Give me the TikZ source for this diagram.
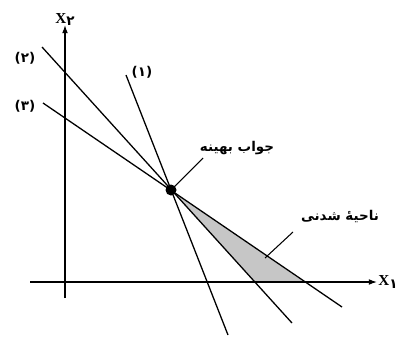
\documentclass[tikz,border=0pt]{standalone}
\usepackage{fontspec}
\newfontfamily\arabicfont[Script=Arabic]{DejaVu Sans}
\newfontfamily\latinfont{Liberation Serif}
\TeXXeTstate=1
\usetikzlibrary{arrows.meta,backgrounds}

\newcommand{\axlabel}[1]{{\latinfont\bfseries\fontsize{13}{14}\selectfont X}\raisebox{-2pt}{\arabicfont\bfseries #1}}

\begin{document}
\begin{tikzpicture}[x=0.03cm,y=-0.03cm,
      every node/.style={font=\arabicfont\bfseries\fontsize{11.5}{13}\selectfont,inner sep=1pt},
      ax/.style={-{Latex[length=7pt,width=5pt]},line width=1.1pt},
      cline/.style={line width=1.1pt},
      ptr/.style={line width=0.9pt},
      feas/.style={fill=gray!45}]
    \useasboundingbox (0,0) rectangle (397,336);
    % points
    \coordinate (opt) at (171,190);
    \coordinate (t1) at (126,75);  \coordinate (b1) at (228,335);
    \coordinate (t2) at (42,47);   \coordinate (b2) at (292,323);
    \coordinate (t3) at (43,103);  \coordinate (b3) at (342,307);
    \coordinate (c2) at (255,282); \coordinate (c3) at (304,282);
    % feasible region
    \fill[feas] (opt) -- (c2) -- (c3) -- cycle;
    % axes
    \coordinate (ybot) at (65,298); \coordinate (ytop) at (65,25);
    \coordinate (xleft) at (30,282); \coordinate (xright) at (377,282);
    \draw[ax] (ybot) -- (ytop);
    \draw[ax] (xleft) -- (xright);
    \node[above=-1pt,inner sep=0pt] (ylbl) at (ytop) {\axlabel{۲}};
    \node[right=1pt,inner sep=0pt] (xlbl) at (xright) {\axlabel{۱}};
    % constraint lines
    \draw[cline] (t1) -- (b1);
    \draw[cline] (t2) -- (b2);
    \draw[cline] (t3) -- (b3);
    \node (l1) at (142,72) {(۱)};
    \node (l2) at (25,58) {(۲)};
    \node (l3) at (25,106) {(۳)};
    % optimum
    \fill (opt) circle (5.5);
    \node (optlbl) at (237,148) {\beginR جواب بهینه\endR};
    \coordinate (p1) at (203,158);
    \draw[ptr] (p1) -- (opt);
    \node (feaslbl) at (340,216) {\beginR ناحیهٔ شدنی\endR};
    \coordinate (p2) at (293,232); \coordinate (q2) at (265,258);
    \draw[ptr] (p2) -- (q2);
  \end{tikzpicture}
\end{document}
